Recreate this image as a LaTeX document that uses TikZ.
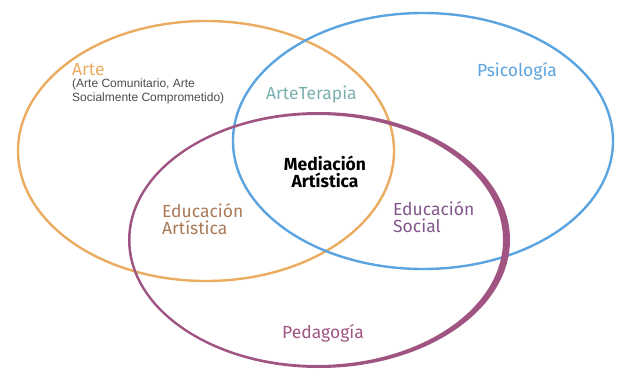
\documentclass[tikz,border=0pt]{standalone}
\usepackage{fontspec}
\setmainfont{Fira Sans}
\newfontfamily\smallfont{Liberation Sans}
\usetikzlibrary{positioning}
\definecolor{arteorange}{RGB}{234,172,96}
\definecolor{psiblue}{RGB}{92,164,224}
\definecolor{pedpurple}{RGB}{160,84,130}
\definecolor{terteal}{RGB}{124,176,176}
\definecolor{edubrown}{RGB}{170,122,88}
\definecolor{socpurple}{RGB}{130,86,140}
\tikzset{
  label text/.style={font=\fontsize{17.5}{16.5}\selectfont, inner sep=0pt, align=left, anchor=base west},
  ring/.style={line width=2.4pt}
}

\begin{document}
\begin{tikzpicture}[x=1pt, y=-1pt]
			\useasboundingbox (0,0) rectangle (620,369);
			
			% circles
			\draw[ring, arteorange] (206,151) ellipse [x radius=188pt, y radius=130pt];
			\draw[ring, psiblue] (423,141) ellipse [x radius=190pt, y radius=128pt];
			\fill[pedpurple, even odd rule] (319,240) ellipse [x radius=191pt, y radius=128pt]
				(316.75,240) ellipse [x radius=186.25pt, y radius=125pt];
			
			% labels (multi-line nodes sit on their last line)
			\node[label text, arteorange] (arte) at (72,75) {Arte};
			\node[anchor=base west, inner sep=0pt, align=left, font=\smallfont\fontsize{12}{13.5}\selectfont, black!70] (artesub) at (72,101) {(Arte Comunitario, Arte\\Socialmente Comprometido)};
			\node[label text, terteal] (terapia) at (266,99) {ArteTerapia};
			\node[label text, psiblue] (psico) at (477,76) {Psicolog\'ia};
			\node[label text, align=center, anchor=base, black, font=\bfseries\fontsize{17.5}{17}\selectfont] (mediacion) at (325,187) {Mediaci\'on\\Art\'istica};
			\node[label text, edubrown] (eduart) at (162,234) {Educaci\'on\\Art\'istica};
			\node[label text, socpurple] (edusoc) at (393,232) {Educaci\'on\\Social};
			\node[label text, pedpurple] (pedagogia) at (282,338) {Pedagog\'ia};
		\end{tikzpicture}
\end{document}
